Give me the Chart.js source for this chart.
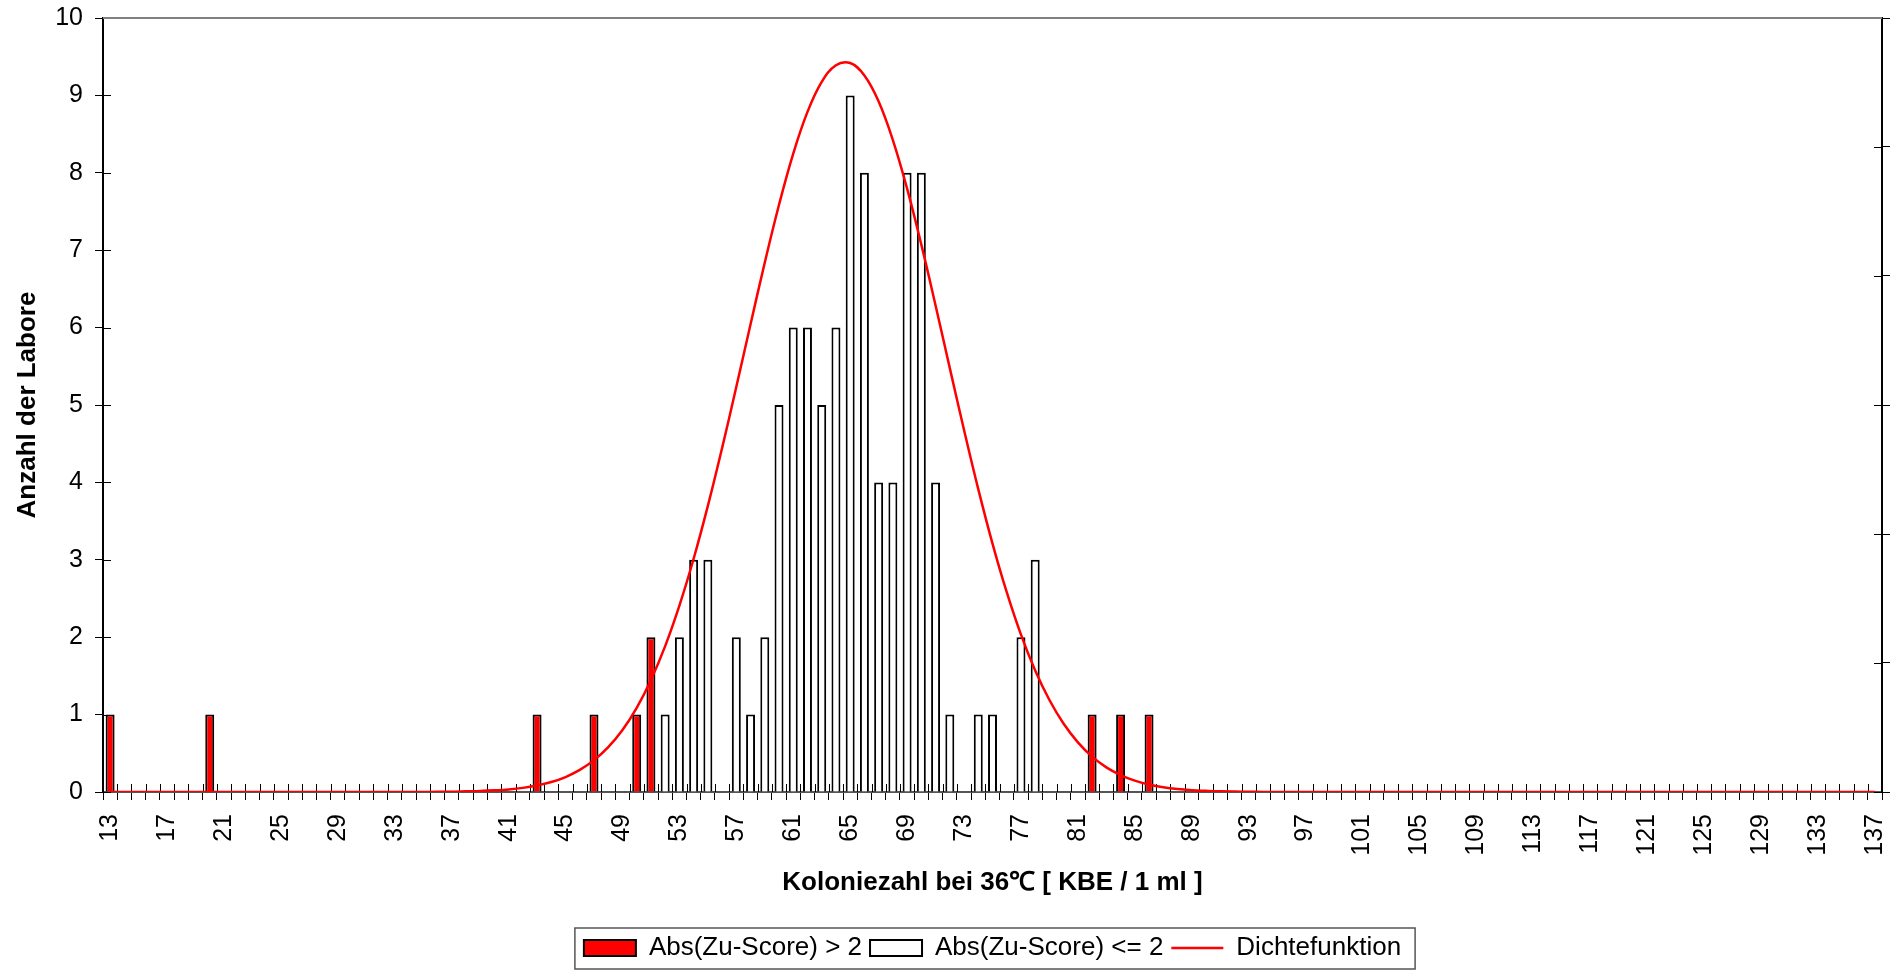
<!DOCTYPE html>
<html>
<head>
<meta charset="utf-8">
<script src="https://cdn.jsdelivr.net/npm/chart.js@4/dist/chart.umd.min.js"></script>
<style>
  html, body { margin: 0; padding: 0; background: #fff; }
  canvas { display: block; }
</style>
</head>
<body>
<canvas id="myChart" width="1903" height="971"></canvas>
<script>
// categories: Koloniezahl 13 .. 137
var firstKbe = 13;
var lastKbe = 137;

// Abs(Zu-Score) > 2
var redKbe   = [13, 20, 43, 47, 50, 51, 82, 84, 86];
var redCount = [1, 1, 1, 1, 1, 2, 1, 1, 1];

// Abs(Zu-Score) <= 2
var whiteKbe   = [52, 53, 54, 55, 57, 58, 59, 60, 61, 62, 63, 64, 65, 66, 67, 68, 69, 70, 71, 72, 74, 75, 77, 78];
var whiteCount = [1, 2, 3, 3, 2, 1, 2, 5, 6, 6, 5, 6, 9, 8, 4, 4, 8, 8, 4, 1, 1, 1, 2, 3];

// Dichtefunktion, read from KBE 36 .. 93 (0 outside)
var densityStart = 36;
var densityValues = [
  0.00001, 0.00002, 0.00005, 0.00008,
  0.00013, 0.0002, 0.00032, 0.00051, 0.00077, 0.00116, 0.00171, 0.00247, 0.00348, 0.00481,
  0.00653, 0.00869, 0.01131, 0.01445, 0.01808, 0.02218, 0.02666, 0.03141, 0.03626, 0.04104,
  0.04552, 0.04949, 0.05272, 0.05505, 0.05634, 0.05651, 0.05555, 0.05353, 0.05054, 0.04677,
  0.04243, 0.03772, 0.03286, 0.02806, 0.02348, 0.01926, 0.01549, 0.0122, 0.00942, 0.00713,
  0.00529, 0.00385, 0.00274, 0.00191, 0.00131, 0.00088, 0.00058, 0.00037, 0.00023, 0.00014,
  0.00009, 0.00005, 0.00003, 0.00002
];

var yTicks = [0, 1, 2, 3, 4, 5, 6, 7, 8, 9, 10];

//========= build the per-category arrays
var labels = [];
var redData = [];
var whiteData = [];
var densityData = [];
for (var k = firstKbe; k <= lastKbe; k++) {
  labels.push(String(k));
  redData.push(null);
  whiteData.push(null);
  var di = k - densityStart;
  densityData.push(di >= 0 && di < densityValues.length ? densityValues[di] : 0);
}
redKbe.forEach(function (k, i) { redData[k - firstKbe] = redCount[i]; });
whiteKbe.forEach(function (k, i) { whiteData[k - firstKbe] = whiteCount[i]; });

Chart.defaults.font.family = "'Liberation Sans', Arial, sans-serif";
Chart.defaults.color = "#000";

// fixed plot box (Excel-like)
var AREA_TOP = 18, AREA_BOTTOM = 793, AREA_LEFT = 103, RIGHT_W = 21;

function noPad(scale) {
  scale.paddingLeft = 0;
  scale.paddingRight = 0;
  scale.paddingTop = 0;
  scale.paddingBottom = 0;
}

//========= frame: top border + inner tick marks + legend box
var framePlugin = {
  id: "frame",
  beforeDatasetsDraw: function (chart) {
    var ctx = chart.ctx, a = chart.chartArea, s = chart.scales;
    ctx.save();
    ctx.strokeStyle = "#000";
    ctx.lineWidth = 1;
    ctx.beginPath();
    var n = s.x.ticks.length;
    var step = (a.right - a.left) / n;
    for (var i = 0; i <= n; i++) {
      var px = Math.round(a.left + i * step) + 0.5;
      ctx.moveTo(px, a.bottom);
      ctx.lineTo(px, a.bottom - 8);
    }
    s.y.ticks.forEach(function (t) {
      var py = Math.round(s.y.getPixelForValue(t.value)) + 0.5;
      ctx.moveTo(a.left, py);
      ctx.lineTo(a.left + 8, py);
    });
    s.y2.ticks.forEach(function (t) {
      var py = Math.round(s.y2.getPixelForValue(t.value)) + 0.5;
      ctx.moveTo(a.right, py);
      ctx.lineTo(a.right - 8, py);
    });
    ctx.stroke();
    ctx.strokeStyle = "#808080";
    ctx.lineWidth = 2;
    ctx.beginPath();
    ctx.moveTo(a.left, a.top);
    ctx.lineTo(a.right, a.top);
    ctx.stroke();
    ctx.restore();
  },
  afterDraw: function (chart) {
    var hb = chart.legend.legendHitBoxes;
    if (!hb || !hb.length) return;
    var left = hb[0].left, right = 0, top = hb[0].top, bottom = 0;
    hb.forEach(function (b) {
      left = Math.min(left, b.left);
      right = Math.max(right, b.left + b.width);
      top = Math.min(top, b.top);
      bottom = Math.max(bottom, b.top + b.height);
    });
    var ctx = chart.ctx;
    ctx.save();
    ctx.strokeStyle = "#555";
    ctx.lineWidth = 1.5;
    ctx.strokeRect(left - 9, top - 7, right - left + 23, bottom - top + 15);
    ctx.restore();
  }
};

var ctx = document.getElementById("myChart").getContext("2d");
var myChart = new Chart(ctx, {
  type: "bar",
  data: {
    labels: labels,
    datasets: [
      {
        label: "Abs(Zu-Score) > 2",
        data: redData,
        backgroundColor: "#ff0000",
        borderColor: "#000",
        borderWidth: 2,
        categoryPercentage: 1,
        barPercentage: 0.63,
        yAxisID: "y",
        order: 1
      },
      {
        label: "Abs(Zu-Score) <= 2",
        data: whiteData,
        backgroundColor: "#fff",
        borderColor: "#000",
        borderWidth: 2,
        categoryPercentage: 1,
        barPercentage: 0.63,
        yAxisID: "y",
        order: 1
      },
      {
        type: "line",
        label: "Dichtefunktion",
        data: densityData,
        borderColor: "#ff0000",
        backgroundColor: "#ff0000",
        borderWidth: 2.5,
        pointRadius: 0,
        tension: 0.4,
        fill: false,
        yAxisID: "y2",
        order: 0
      }
    ]
  },
  options: {
    responsive: false,
    animation: false,
    layout: { padding: { top: AREA_TOP, left: 0, right: 0, bottom: 0 } },
    plugins: {
      tooltip: { enabled: false },
      legend: {
        display: true,
        position: "bottom",
        fullSize: false,
        labels: {
          usePointStyle: true,
          pointStyleWidth: 52,
          boxWidth: 52,
          boxHeight: 16,
          padding: 8,
          font: { size: 26 },
          sort: function (a, b) { return a.datasetIndex - b.datasetIndex; },
          generateLabels: function (chart) {
            var items = Chart.defaults.plugins.legend.labels.generateLabels(chart);
            items.forEach(function (it) {
              if (it.datasetIndex < 2) {
                it.pointStyle = "rect";
                it.lineWidth = 2;
                it.strokeStyle = "#000";
              } else {
                it.pointStyle = "line";
                it.lineWidth = 2.5;
                it.strokeStyle = "#ff0000";
              }
            });
            return items;
          }
        }
      }
    },
    scales: {
      x: {
        stacked: true,
        offset: true,
        grid: { offset: true, drawOnChartArea: false, drawTicks: true, tickLength: 8, color: "#000" },
        border: { color: "#555", width: 2 },
        ticks: {
          autoSkip: false,
          minRotation: 90,
          maxRotation: 90,
          padding: 14,
          font: { size: 25 },
          callback: function (v, i) { return i % 4 === 0 ? labels[i] : ""; }
        },
        title: {
          display: true,
          text: "Koloniezahl bei 36\u2103 [ KBE / 1 ml ]",
          font: { size: 26, weight: "bold" },
          padding: { top: 0, bottom: 29 }
        },
        afterFit: function (scale) {
          scale.height = 135;
          noPad(scale);
        }
      },
      y: {
        stacked: true,
        position: "left",
        min: 0,
        max: 10,
        afterBuildTicks: function (scale) {
          scale.ticks = yTicks.map(function (v) { return { value: v }; });
        },
        grid: { drawOnChartArea: false, drawTicks: true, tickLength: 8, color: "#000" },
        border: { color: "#000", width: 2 },
        ticks: { padding: 12, font: { size: 25 } },
        title: {
          display: true,
          text: "Anzahl der Labore",
          font: { size: 26, weight: "bold" },
          padding: { top: 12, bottom: 0 }
        },
        afterFit: function (scale) {
          scale.width = AREA_LEFT;
          noPad(scale);
        }
      },
      y2: {
        position: "right",
        min: 0,
        max: 0.06,
        ticks: { display: false, stepSize: 0.01 },
        grid: { drawOnChartArea: false, drawTicks: true, tickLength: 8, color: "#000" },
        border: { color: "#000", width: 2 },
        afterFit: function (scale) {
          scale.width = RIGHT_W;
          noPad(scale);
        }
      }
    }
  },
  plugins: [framePlugin]
});
</script>
</body>
</html>
